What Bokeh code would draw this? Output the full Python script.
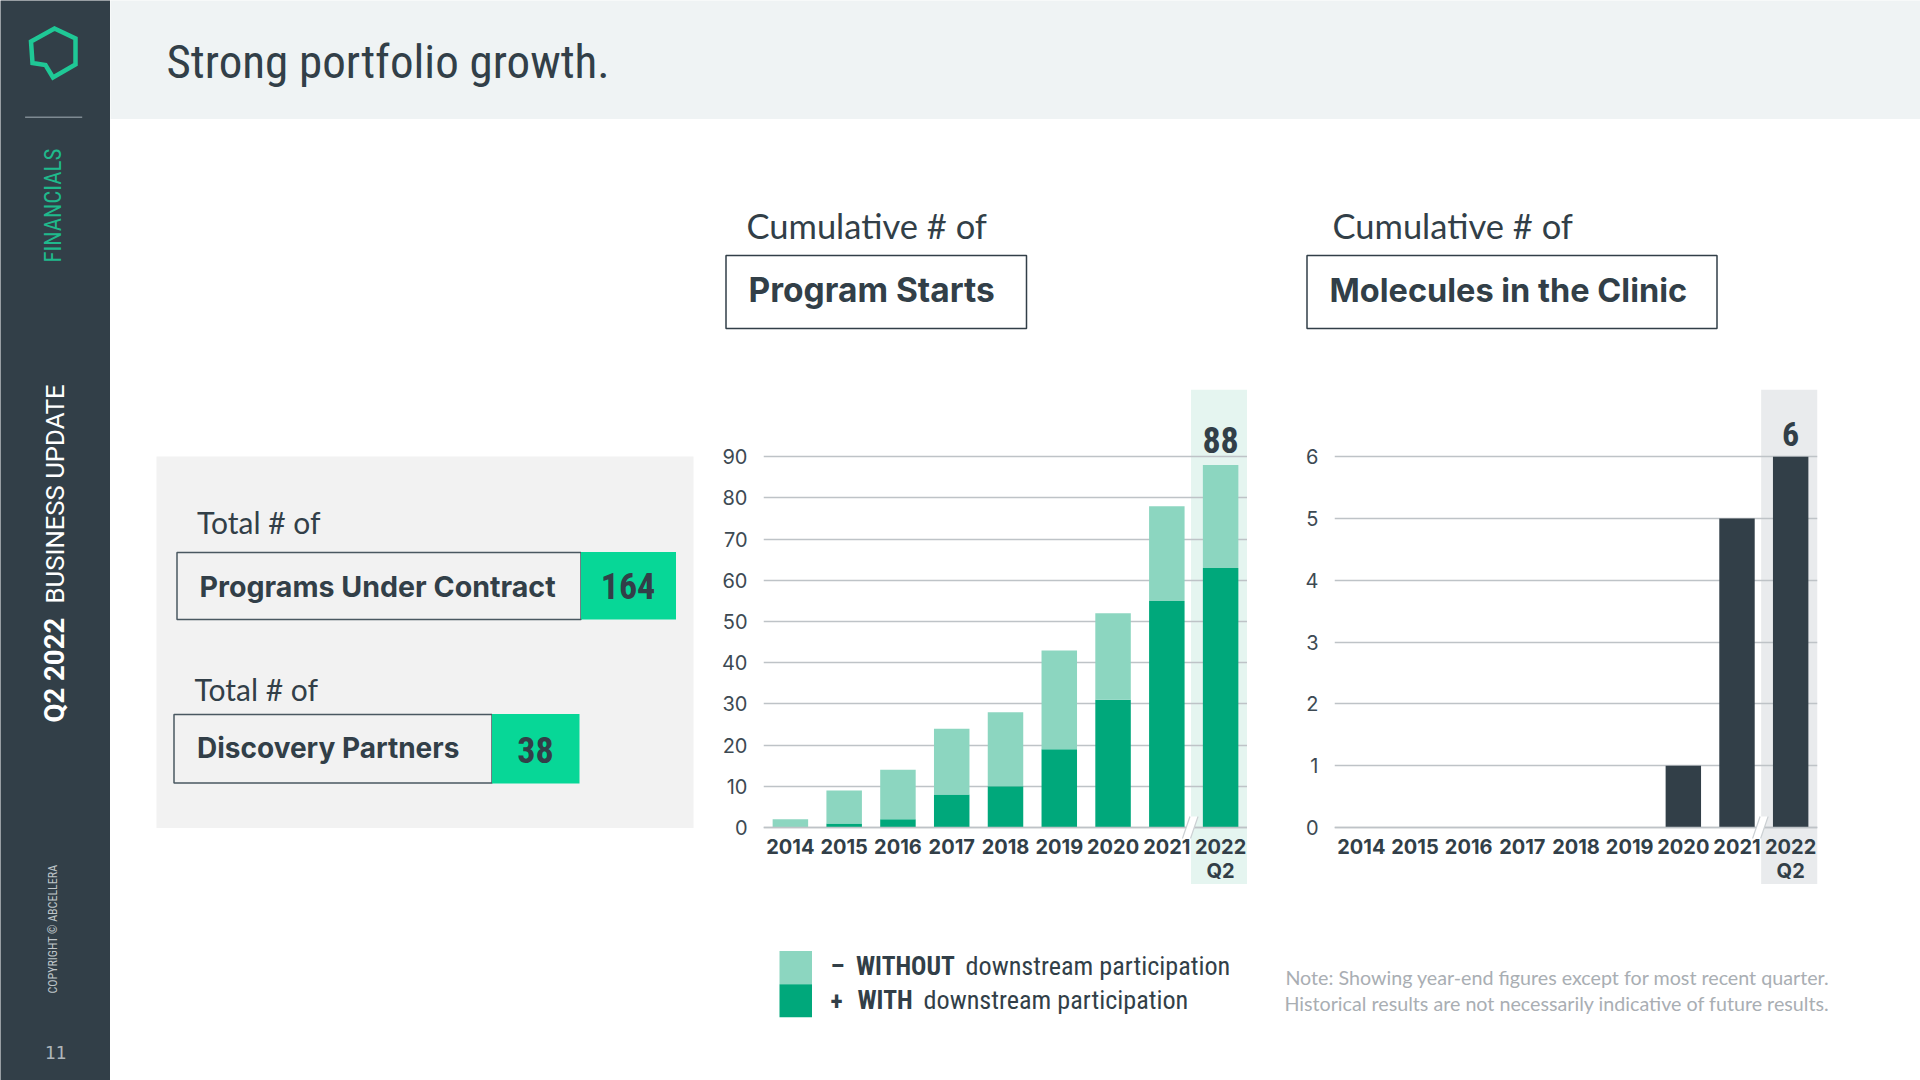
from bokeh.embed import file_html
from bokeh.resources import INLINE
from bokeh.plotting import figure
from bokeh.layouts import row, column
from bokeh.core.properties import value
from bokeh.models import (Range1d, FactorRange, Label, LinearAxis, CategoricalAxis,
                          FixedTicker, ColumnDataSource, Grid)

# ---------- data ----------
years = ["2014", "2015", "2016", "2017", "2018", "2019", "2020", "2021", "2022\nQ2"]
with_downstream = [0, 1, 2, 8, 10, 19, 31, 55, 63]
without_downstream = [2, 8, 12, 16, 18, 24, 21, 23, 25]
molecules = [0, 0, 0, 0, 0, 0, 1, 5, 6]
program_ticks = [0, 10, 20, 30, 40, 50, 60, 70, 80, 90]
molecule_ticks = [0, 1, 2, 3, 4, 5, 6]
programs_total_label = "88"
molecules_total_label = "6"
contract_total = "164"
partner_total = "38"

# ---------- palette / fonts ----------
NAVY = "#323F48"
GREEN_D = "#00A87B"
GREEN_L = "#8CD6C0"
GREEN_B = "#07D797"
MINT = "#1FC896"
GRID = "#BEC3C7"
NARROW = "'Roboto Condensed', Roboto"
BODY = "Lato"
BOLD = "Inter"
LIFT = 0.36  # Bokeh sets a label's "alphabetic" anchor this far above the drawn baseline, per font px


def canvas(x0, x1, y0, y1, bg="#FFFFFF"):
    return figure(width=x1 - x0, height=y1 - y0, x_range=Range1d(x0, x1), y_range=Range1d(y1, y0),
                  x_axis_type=None, y_axis_type=None, toolbar_location=None, output_backend="svg",
                  min_border=0, outline_line_color=None, background_fill_color=bg, border_fill_color=bg)


def txt(p, x, y, s, size, color=NAVY, font=BODY, style="normal", align="left", angle=0):
    if angle:
        x -= LIFT * size
    else:
        y -= LIFT * size
    p.add_layout(Label(x=x, y=y, text=s, text_font=font, text_font_size=f"{size}px", text_font_style=style,
                       text_color=color, text_align=align, angle=angle, angle_units="deg", text_baseline="alphabetic"))


# ---------- sidebar ----------
side = canvas(0, 110, 0, 1080, NAVY)
side.patch([54, 75, 75, 52.5, 45, 32, 30.5, 54], [28, 38, 64, 77, 64.5, 62.5, 41, 28],
           fill_color=None, line_color=MINT, line_width=4.5, line_join="miter")
side.segment([24.6], [116.7], [81.7], [116.7], line_color="#7E8A92", line_width=1.5)
txt(side, 61, 262, "FINANCIALS", 23, "#1FB98C", NARROW, angle=90)
txt(side, 64, 722, "Q2 2022", 27.5, "#FFFFFF", "Roboto", "bold", angle=90)
txt(side, 64, 603, "BUSINESS UPDATE", 25.7, "#FFFFFF", "Roboto", angle=90)
txt(side, 57, 993, "COPYRIGHT © ABCELLERA", 12, "#BFC5C9", NARROW, angle=90)
txt(side, 55, 1058, "11", 18, "#AEB6BB", "DejaVu Sans Mono", align="center")

# ---------- header ----------
head = canvas(110, 1920, 0, 119, "#EFF3F4")
txt(head, 166, 78, "Strong portfolio growth.", 47, NAVY, NARROW)

# ---------- titles ----------
top = canvas(110, 1920, 119, 389)
txt(top, 746, 237, "Cumulative # of", 34.5)
top.quad(left=[725.5], right=[1026], top=[255], bottom=[328], fill_color=None, line_color=NAVY, line_width=1.5)
txt(top, 748, 302, "Program Starts", 33.5, NAVY, BOLD, "bold")
txt(top, 1332, 237, "Cumulative # of", 34.5)
top.quad(left=[1306.5], right=[1716.5], top=[255], bottom=[328], fill_color=None, line_color=NAVY, line_width=1.5)
txt(top, 1329, 302, "Molecules in the Clinic", 32.5, NAVY, BOLD, "bold")

# ---------- left panel ----------
panel = canvas(110, 700, 389, 884)
panel.quad(left=[156], right=[693], top=[456], bottom=[827.5], fill_color="#F2F2F2", line_color=None)
txt(panel, 196.5, 532, "Total # of", 30)
panel.quad(left=[176.5], right=[580.5], top=[552], bottom=[619], fill_color=None, line_color="#4A5861", line_width=1.5)
panel.quad(left=[580.5], right=[675.5], top=[551.5], bottom=[619], fill_color=GREEN_B, line_color=None)
txt(panel, 199, 596, "Programs Under Contract", 28.6, NAVY, BOLD, "bold")
txt(panel, 627.5, 598.5, contract_total, 36, NAVY, NARROW, "bold", "center")
txt(panel, 194, 699, "Total # of", 30)
panel.quad(left=[173.5], right=[491.5], top=[714], bottom=[782.5], fill_color=None, line_color="#4A5861", line_width=1.5)
panel.quad(left=[491.5], right=[579], top=[713.5], bottom=[783], fill_color=GREEN_B, line_color=None)
txt(panel, 196.5, 758, "Discovery Partners", 28, NAVY, BOLD, "bold")
txt(panel, 535, 762, partner_total, 36, NAVY, NARROW, "bold", "center")


# ---------- charts ----------
def chart(x0, x1, frame_l, frame_r, ticks, ppu, band_color):
    y_end = 438 / ppu
    y_start = -57 / ppu
    p = figure(width=x1 - x0, height=495, x_range=FactorRange(*years, factor_padding=0, range_padding=0),
               y_range=Range1d(y_start, y_end), x_axis_type=None, y_axis_type=None,
               toolbar_location=None, output_backend="svg", outline_line_color=None,
               min_border_left=frame_l - x0, min_border_right=x1 - frame_r, min_border_top=0, min_border_bottom=0)
    p.vbar(x=[years[-1]], width=1.1, top=[y_end], bottom=[y_start], fill_color=band_color, line_color=None, level="image")
    yax = LinearAxis(ticker=FixedTicker(ticks=ticks), axis_line_color=None, major_tick_line_color=None,
                     minor_tick_line_color=None, major_label_text_font=BOLD, major_label_text_font_size="20px",
                     major_label_text_color="#3D4A53", major_label_standoff=10)
    p.add_layout(yax, "left")
    p.add_layout(Grid(dimension=1, ticker=FixedTicker(ticks=ticks), grid_line_color=GRID, grid_line_width=1.4, level="underlay"))
    xax = CategoricalAxis(fixed_location=0, axis_line_color=GRID, axis_line_width=1.4, major_tick_line_color=None,
                          minor_tick_line_color=None, major_label_text_font=BOLD, major_label_text_font_style="bold",
                          major_label_text_font_size="20px", major_label_text_color=NAVY, major_label_standoff=1,
                          major_label_text_line_height=1.0)
    p.add_layout(xax, "below")
    # axis break mark, placed in the chart's own (synthetic factor, value) coordinates
    bx = [7.79, 7.93, 8.08, 7.94]
    by = [-11 / ppu, 11 / ppu, 11 / ppu, -11 / ppu]
    p.patch(bx, by, fill_color="#FFFFFF", line_color=None, level="overlay")
    p.segment([bx[0], bx[3]], [by[0], by[3]], [bx[1], bx[2]], [by[1], by[2]], line_color="#CBD0D3", line_width=1.2, level="overlay")
    return p


c1 = chart(700, 1247, 763, 1247, program_ticks, 370.7 / 90, "#E5F5F0")
src1 = ColumnDataSource(dict(year=years, with_d=with_downstream, without_d=without_downstream))
c1.vbar_stack(["with_d", "without_d"], x="year", width=0.66, color=[GREEN_D, GREEN_L], line_color=None, source=src1)
c1.text(x=[years[-1]], y=[with_downstream[-1] + without_downstream[-1]], text=[programs_total_label], y_offset=-12,
        text_align="center", text_font=value(NARROW), text_font_style="bold", text_font_size="36px", text_color=NAVY)

c2 = chart(1247, 1920, 1334, 1817, molecule_ticks, 370.7 / 6, "#E9EBED")
src2 = ColumnDataSource(dict(year=years, n=molecules))
c2.vbar(x="year", top="n", width=0.66, color=NAVY, line_color=None, source=src2)
c2.text(x=[years[-1]], y=[molecules[-1]], text=[molecules_total_label], y_offset=-11,
        text_align="center", text_font=value(NARROW), text_font_style="bold", text_font_size="34px", text_color=NAVY)

# ---------- legend and note ----------
bot = canvas(110, 1920, 884, 1080)
bot.quad(left=[779], right=[811.5], top=[950.5], bottom=[983.7], fill_color=GREEN_L, line_color=None)
bot.quad(left=[779], right=[811.5], top=[983.7], bottom=[1016.7], fill_color=GREEN_D, line_color=None)
txt(bot, 830, 975, "–", 25.5, NAVY, NARROW, "bold")
txt(bot, 855.5, 975, "WITHOUT", 25.5, NAVY, NARROW, "bold")
txt(bot, 965, 975, "downstream participation", 26.2, NAVY, NARROW)
txt(bot, 830, 1009, "+", 25.5, NAVY, NARROW, "bold")
txt(bot, 857, 1009, "WITH", 25.5, NAVY, NARROW, "bold")
txt(bot, 923, 1009, "downstream participation", 26.2, NAVY, NARROW)
txt(bot, 1829, 984.5, "Note: Showing year-end figures except for most recent quarter.", 19.7, "#A9AEB3", align="right")
txt(bot, 1829, 1010.5, "Historical results are not necessarily indicative of future results.", 19.7, "#A9AEB3", align="right")

root = row(side, column(head, top, row(panel, c1, c2, spacing=0), bot, spacing=0), spacing=0)
open("out.html", "w").write(file_html(root, INLINE))
